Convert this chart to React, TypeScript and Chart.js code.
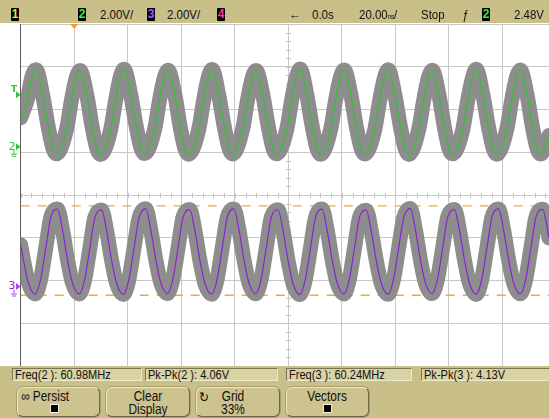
import React, { useEffect, useRef } from "react";
import { Chart, registerables } from "chart.js";
Chart.register(...registerables);

// ---- data (time in ns, 20 ns/div; voltages in V, 2 V/div) ----
const timeMin = -100;
const timeMax = 97.4;
const voltsPerDiv = 2;
const ch2Ground = 1.13; // divisions above centre
const ch3Ground = -2.14;
const trigLevel = 2.48;

const ch2Times = [
  -100, -97.45, -95.9,
  -94.3, -91.7, -89.8, -87.9, -86.6, -82.9, -81.0, -79.2,
  -77.85, -75.25, -73.35, -71.45, -70.15, -66.45, -64.55, -62.75,
  -61.4, -58.8, -56.9, -55.0, -53.7, -50.0, -48.1, -46.3,
  -44.95, -42.35, -40.45, -38.55, -37.25, -33.55, -31.65, -29.85,
  -28.5, -25.9, -24.0, -22.1, -20.8, -17.1, -15.2, -13.4,
  -12.05, -9.45, -7.55, -5.65, -4.35, -0.65, 1.25, 3.05,
  4.4, 7.0, 8.9, 10.8, 12.1, 15.8, 17.7, 19.5,
  20.85, 23.45, 25.35, 27.25, 28.55, 32.25, 34.15, 35.95,
  37.3, 39.9, 41.8, 43.7, 45.0, 48.7, 50.6, 52.4,
  53.75, 56.35, 58.25, 60.15, 61.45, 65.15, 67.05, 68.85,
  70.2, 72.8, 74.7, 76.6, 77.9, 81.6, 83.5, 85.3,
  86.65, 89.25, 91.15, 93.05, 94.35, 97.4,
];
const ch2Volts = [
  1.35, 2.25, 3.22,
  3.60, 2.35, 0.98, -0.10, -0.33, 0.80, 2.20, 3.25,
  3.56, 2.38, 0.95, -0.12, -0.36, 0.76, 2.16, 3.28,
  3.62, 2.36, 0.99, -0.09, -0.32, 0.79, 2.19, 3.24,
  3.58, 2.39, 0.96, -0.13, -0.35, 0.77, 2.17, 3.27,
  3.61, 2.34, 0.97, -0.10, -0.34, 0.81, 2.21, 3.25,
  3.57, 2.37, 0.98, -0.11, -0.33, 0.78, 2.18, 3.28,
  3.63, 2.36, 0.96, -0.12, -0.35, 0.80, 2.20, 3.26,
  3.59, 2.38, 0.97, -0.10, -0.34, 0.77, 2.17, 3.24,
  3.60, 2.35, 0.99, -0.11, -0.36, 0.79, 2.19, 3.27,
  3.58, 2.37, 0.95, -0.13, -0.33, 0.78, 2.18, 3.25,
  3.62, 2.36, 0.98, -0.10, -0.35, 0.80, 2.20, 3.28,
  3.59, 2.38, 0.97, -0.12, -0.34, 0.52,
];

const ch3Times = [
  -100, -98.98, -97.11, -94.62, -92.62, -90.57, -88.72,
  -86.24, -84.37, -82.5, -80.63, -78.14, -76.14, -74.09, -72.24,
  -69.76, -67.89, -66.02, -64.15, -61.66, -59.66, -57.61, -55.76,
  -53.28, -51.41, -49.54, -47.67, -45.18, -43.18, -41.13, -39.28,
  -36.8, -34.93, -33.06, -31.19, -28.7, -26.7, -24.65, -22.8,
  -20.32, -18.45, -16.58, -14.71, -12.22, -10.22, -8.17, -6.32,
  -3.84, -1.97, -0.1, 1.77, 4.26, 6.26, 8.31, 10.16,
  12.64, 14.51, 16.38, 18.25, 20.74, 22.74, 24.79, 26.64,
  29.12, 30.99, 32.86, 34.73, 37.22, 39.22, 41.27, 43.12,
  45.6, 47.47, 49.34, 51.21, 53.7, 55.7, 57.75, 59.6,
  62.08, 63.95, 65.82, 67.69, 70.18, 72.18, 74.23, 76.08,
  78.56, 80.43, 82.3, 84.17, 86.66, 88.66, 90.71, 92.56,
  95.04, 96.91, 97.4,
];
const ch3Volts = [
  1.95, 1.24, 0.16, -0.35, 0.30, 1.85, 3.25,
  3.62, 2.64, 1.24, 0.16, -0.35, 0.30, 1.85, 3.25,
  3.58, 2.60, 1.22, 0.14, -0.37, 0.28, 1.83, 3.22,
  3.64, 2.66, 1.26, 0.18, -0.33, 0.32, 1.87, 3.27,
  3.60, 2.62, 1.23, 0.15, -0.36, 0.29, 1.84, 3.24,
  3.63, 2.65, 1.25, 0.17, -0.34, 0.31, 1.86, 3.26,
  3.59, 2.61, 1.21, 0.13, -0.38, 0.27, 1.82, 3.23,
  3.62, 2.63, 1.24, 0.16, -0.35, 0.30, 1.85, 3.25,
  3.57, 2.59, 1.22, 0.14, -0.36, 0.29, 1.84, 3.22,
  3.65, 2.66, 1.26, 0.17, -0.33, 0.32, 1.87, 3.27,
  3.60, 2.62, 1.23, 0.15, -0.37, 0.28, 1.83, 3.24,
  3.63, 2.64, 1.25, 0.16, -0.34, 0.31, 1.86, 3.26,
  3.61, 2.63, 2.27,
];
const ch3CursorVolts = [3.77, -0.41];
const triggerTime = -80;

const measurementLabels = [
  "Freq(2 ): 60.98MHz",
  "Pk-Pk(2 ): 4.06V",
  "Freq(3 ): 60.24MHz",
  "Pk-Pk(3 ): 4.13V",
];

// ---- styling ----
const FONT = "'Liberation Sans', Arial, sans-serif";
const SQUEEZE = 0.85;
const KHAKI = "#c9bf88";
const GREEN = "#2fc42f";
const PURPLE = "#8a22d8";
const GRAY = "#8d8d8d";
const ORANGE = "#f0a848";

const toDiv = (v: number, g: number) => v / voltsPerDiv + g;

const decor = {
  id: "scopeDecor",
  beforeDatasetsDraw(chart: any) {
    const { ctx, scales } = chart;
    const x = scales.x, y = scales.y;
    const cx = Math.round(x.getPixelForValue(0)) + 0.5;
    const cy = Math.round(y.getPixelForValue(0)) + 0.5;
    ctx.save();
    ctx.strokeStyle = "#c4c4c4";
    ctx.lineWidth = 1;
    ctx.beginPath();
    for (let v = timeMin; v <= timeMax; v += 4) {
      const px = Math.round(x.getPixelForValue(v)) + 0.5;
      ctx.moveTo(px, cy - 2.5);
      ctx.lineTo(px, cy + 2.5);
    }
    for (let d = -4; d <= 4.001; d += 0.2) {
      const py = Math.round(y.getPixelForValue(d)) + 0.5;
      ctx.moveTo(cx - 2.5, py);
      ctx.lineTo(cx + 2.5, py);
    }
    ctx.stroke();
    ctx.restore();
  },
  afterDraw(chart: any) {
    const { ctx, scales, chartArea } = chart;
    const x = scales.x, y = scales.y;
    ctx.save();
    const tx = x.getPixelForValue(triggerTime);
    ctx.fillStyle = "#f09a30";
    ctx.beginPath();
    ctx.moveTo(tx - 4, chartArea.top);
    ctx.lineTo(tx + 4, chartArea.top);
    ctx.lineTo(tx, chartArea.top + 5);
    ctx.closePath();
    ctx.fill();

    const arrow = (py: number, color: string) => {
      ctx.fillStyle = color;
      ctx.beginPath();
      ctx.moveTo(16, py - 3.5);
      ctx.lineTo(20.5, py);
      ctx.lineTo(16, py + 3.5);
      ctx.closePath();
      ctx.fill();
    };
    const ground = (px: number, py: number, color: string) => {
      ctx.strokeStyle = color;
      ctx.lineWidth = 1;
      ctx.beginPath();
      ctx.moveTo(px, py - 1);
      ctx.lineTo(px, py + 3);
      ctx.moveTo(px - 3, py + 3.5);
      ctx.lineTo(px + 3, py + 3.5);
      ctx.moveTo(px - 2, py + 5.5);
      ctx.lineTo(px + 2, py + 5.5);
      ctx.stroke();
    };
    const tly = y.getPixelForValue(toDiv(trigLevel, ch2Ground));
    ctx.fillStyle = GREEN;
    ctx.font = "bold 9px 'DejaVu Sans', sans-serif";
    ctx.textAlign = "center";
    ctx.textBaseline = "middle";
    ctx.fillText("T", 14, tly - 4);
    arrow(tly + 1, GREEN);
    const g2 = y.getPixelForValue(ch2Ground);
    ctx.font = "11px 'DejaVu Sans', sans-serif";
    ctx.fillStyle = GREEN;
    ctx.fillText("2", 12, g2);
    arrow(g2, GREEN);
    ground(14, g2 + 4, GREEN);
    const g3 = y.getPixelForValue(ch3Ground);
    ctx.fillStyle = PURPLE;
    ctx.fillText("3", 12, g3);
    arrow(g3, "#b040ff");
    ground(14, g3 + 4, "#b040ff");
    ctx.restore();
  },
};

function Box({ x, digit, color }: { x: number; digit: string; color: string }) {
  return (
    <div
      style={{
        position: "absolute", left: x, top: 8, width: 8, height: 13, background: "#000",
        borderRadius: 1, color, font: `bold 12px ${FONT}`, lineHeight: "13px", textAlign: "center",
      }}
    >
      {digit}
    </div>
  );
}

function Txt({ x, y, children, size = 13.5, center = false, style = {} }: any) {
  return (
    <div
      style={{
        position: "absolute", left: x, top: y, font: `${size}px ${FONT}`, lineHeight: `${size}px`,
        color: "#111", whiteSpace: "nowrap",
        transform: center ? `translateX(-50%) scaleX(${SQUEEZE})` : `scaleX(${SQUEEZE})`,
        transformOrigin: center ? "50% 50%" : "0 50%",
        ...style,
      }}
    >
      {children}
    </div>
  );
}

const btnStyle = (x: number, w: number): React.CSSProperties => ({
  position: "absolute", left: x, top: 387, width: w, height: 30, boxSizing: "border-box",
  background: "#cdc38e", borderRadius: 6,
  borderTop: "1px solid #eee8c6", borderLeft: "1px solid #eee8c6",
  borderBottom: "1px solid #6d6742", borderRight: "1px solid #6d6742",
  boxShadow: "0 0 0 1px #a79e6c",
});

function Check({ x }: { x: number }) {
  return <div style={{ position: "absolute", left: x, top: 404, width: 9, height: 9, boxSizing: "border-box", background: "#000", border: "1px solid #f4f0dc" }} />;
}

export default function App() {
  const ref = useRef<HTMLCanvasElement>(null);
  useEffect(() => {
    const ch2 = ch2Times.map((t, i) => ({ x: t, y: toDiv(ch2Volts[i], ch2Ground) }));
    const ch3 = ch3Times.map((t, i) => ({ x: t, y: toDiv(ch3Volts[i], ch3Ground) }));
    const cursors = ch3CursorVolts.map((v) => ({
      data: [{ x: timeMin, y: toDiv(v, ch3Ground) }, { x: timeMax, y: toDiv(v, ch3Ground) }],
      borderColor: ORANGE, borderWidth: 1.3, borderDash: [9, 8], pointRadius: 0, order: 4, clip: 0,
    }));
    const trace = (data: any, color: string, width: number, order: number) => ({
      data, borderColor: color, borderWidth: width, pointRadius: 0, order, clip: 0,
      cubicInterpolationMode: "monotone", borderJoinStyle: "round", borderCapStyle: "round", fill: false,
    });
    const chart = new Chart(ref.current!, {
      type: "line",
      data: {
        datasets: [
          trace(ch2, GREEN, 1.2, 1),
          trace(ch3, PURPLE, 1.2, 1),
          trace(ch2, GRAY, 15, 2),
          trace(ch3, GRAY, 15, 2),
          ...cursors,
        ] as any,
      },
      options: {
        responsive: false,
        animation: false,
        events: [],
        layout: { padding: { left: 20.7, top: 24, right: 0, bottom: 52 } },
        plugins: { legend: { display: false }, tooltip: { enabled: false } },
        scales: {
          x: {
            type: "linear", min: timeMin, max: timeMax,
            ticks: { display: false, stepSize: 20, includeBounds: false } as any,
            grid: { color: (c: any) => (c.tick && c.tick.value === timeMin ? "#5c5c5c" : "#c8c8c8"), drawTicks: false, lineWidth: 1 },
            border: { display: false },
          },
          y: {
            type: "linear", min: -4, max: 4,
            ticks: { display: false, stepSize: 1 },
            grid: { color: "#c8c8c8", drawTicks: false },
            border: { display: false },
          },
        },
      },
      plugins: [decor],
    });
    return () => chart.destroy();
  }, []);

  const measBoxes = [
    { x: 12, w: 130 },
    { x: 145, w: 133 },
    { x: 286, w: 126 },
    { x: 421, w: 132 },
  ];

  return (
    <div style={{ position: "fixed", left: 0, top: 0, width: 549, height: 418, background: "#fff", overflow: "hidden" }}>
      <canvas ref={ref} width={549} height={418} style={{ position: "absolute", left: 0, top: 0 }} />
      <div style={{ position: "absolute", left: 0, top: 0, width: 549, height: 23, background: KHAKI }}>
        <Box x={11} digit="1" color="#e8e810" />
        <Box x={78} digit="2" color="#3ee83e" />
        <Txt x={100} y={8}>2.00V/</Txt>
        <Box x={147} digit="3" color="#a855ff" />
        <Txt x={167} y={8}>2.00V/</Txt>
        <Box x={217} digit="4" color="#ff3a90" />
        <Txt x={289} y={8}>←</Txt>
        <Txt x={312} y={8}>0.0s</Txt>
        <Txt x={359} y={8}>20.00<span style={{ fontSize: 8, letterSpacing: -0.5 }}>ns</span>/</Txt>
        <Txt x={421} y={8}>Stop</Txt>
        <Txt x={462} y={8} style={{ fontStyle: "italic" }}>ƒ</Txt>
        <Box x={482} digit="2" color="#3ee83e" />
        <Txt x={514} y={8}>2.48V</Txt>
      </div>
      <div style={{ position: "absolute", left: 0, top: 366, width: 549, height: 52, background: KHAKI }} />
      {measBoxes.map((b, i) => (
        <div key={i} style={{
          position: "absolute", left: b.x, top: 368, width: b.w, height: 13, boxSizing: "border-box",
          background: "#d9d2a3", borderTop: "1px solid #7d7750", borderLeft: "1px solid #7d7750",
          borderBottom: "1px solid #efe9c9", borderRight: "1px solid #efe9c9",
        }}>
          <Txt x={2} y={-1} size={13}>{measurementLabels[i]}</Txt>
        </div>
      ))}
      <div style={btnStyle(17, 83)} />
      <Txt x={21} y={389} size={14}>∞ Persist</Txt>
      <Check x={50} />
      <div style={btnStyle(106, 84)} />
      <Txt x={148} y={389} size={14} center>Clear</Txt>
      <Txt x={148} y={402} size={14} center>Display</Txt>
      <div style={btnStyle(196, 84)} />
      <Txt x={199} y={390} size={14}>↻</Txt>
      <Txt x={233} y={389} size={14} center>Grid</Txt>
      <Txt x={233} y={402} size={14} center>33%</Txt>
      <div style={btnStyle(286, 83)} />
      <Txt x={327} y={389} size={14} center>Vectors</Txt>
      <Check x={323} />
    </div>
  );
}
